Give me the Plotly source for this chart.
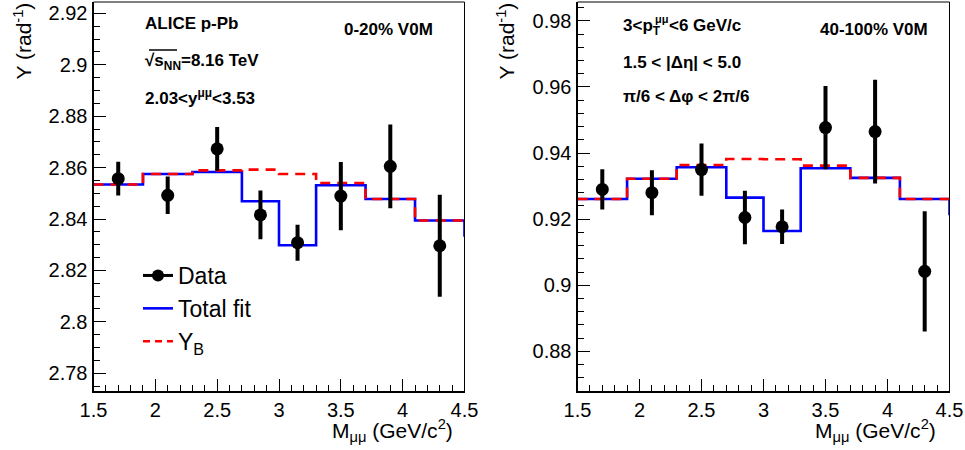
import plotly.graph_objects as go

W, H = 965, 450

# ---------------- data ----------------
mass_points = [1.7, 2.1, 2.5, 2.85, 3.15, 3.5, 3.9, 4.3]
bin_edges = [1.5, 1.9, 2.3, 2.7, 3.0, 3.3, 3.7, 4.1, 4.5]

# left panel: 0-20% V0M
left_data = [2.8557, 2.8492, 2.8673, 2.8416, 2.8308, 2.8489, 2.8605, 2.8296]
left_err = [0.0066, 0.0073, 0.0085, 0.0095, 0.0070, 0.0133, 0.0163, 0.0198]
left_fit = [2.8534, 2.8575, 2.8583, 2.8469, 2.8298, 2.8531, 2.8478, 2.8394]
left_fit_next = 2.8331
left_bkg = [2.8534, 2.8575, 2.8589, 2.8592, 2.8575, 2.8540, 2.8478, 2.8394]

# right panel: 40-100% V0M
right_data = [0.9290, 0.9280, 0.9350, 0.9205, 0.9177, 0.9477, 0.9465, 0.9042]
right_err = [0.0061, 0.0068, 0.0079, 0.0081, 0.0052, 0.0126, 0.0157, 0.0182]
right_fit = [0.9261, 0.9322, 0.9357, 0.9265, 0.9164, 0.9354, 0.9325, 0.9261]
right_fit_next = 0.9212
right_bkg = [0.9261, 0.9322, 0.9364, 0.9382, 0.9381, 0.9362, 0.9325, 0.9261]

left_yrange = [2.7731, 2.9244]
right_yrange = [0.8680, 0.9857]
x_range = [1.5, 4.5]

FONT = "Liberation Sans"
BLUE = "#0000ff"
RED = "#ff0000"

fig = go.Figure()


def step_xy(vals, nxt=None):
    xs = list(bin_edges)
    ys = list(vals) + [vals[-1]]
    if nxt is not None:
        xs.append(bin_edges[-1])
        ys.append(nxt)
    return xs, ys


panels = [
    ("x", "y", left_data, left_err, left_fit, left_fit_next, left_bkg),
    ("x2", "y2", right_data, right_err, right_fit, right_fit_next, right_bkg),
]
for xa, ya, d, e, f, fn, b in panels:
    fx, fy = step_xy(f, fn)
    fig.add_trace(go.Scatter(x=fx, y=fy, xaxis=xa, yaxis=ya, mode="lines",
                             line=dict(color=BLUE, width=2.6, shape="hv"),
                             showlegend=False, hoverinfo="skip"))
    bx, by = step_xy(b)
    fig.add_trace(go.Scatter(x=bx, y=by, xaxis=xa, yaxis=ya, mode="lines",
                             line=dict(color=RED, width=2.6, shape="hv", dash="10px,7px"),
                             showlegend=False, hoverinfo="skip"))
    fig.add_trace(go.Scatter(x=mass_points, y=d, xaxis=xa, yaxis=ya, mode="markers",
                             marker=dict(color="black", size=13, symbol="circle"),
                             error_y=dict(type="data", array=e, thickness=4, width=0,
                                          color="black"),
                             showlegend=False))

# legend entries
fig.add_trace(go.Scatter(x=[None], y=[None], mode="lines+markers", name="Data",
                         line=dict(color="black", width=3),
                         marker=dict(color="black", size=12)))
fig.add_trace(go.Scatter(x=[None], y=[None], mode="lines", name="Total fit",
                         line=dict(color=BLUE, width=2.6)))
fig.add_trace(go.Scatter(x=[None], y=[None], mode="lines", name="Y<sub>B</sub>",
                         line=dict(color=RED, width=2.6, dash="7px,5px")))


def px(x):
    return x / W


def py(y):
    return 1 - y / H


xdom_l = [px(93.5), px(464.5)]
xdom_r = [px(577.5), px(949.5)]
ydom = [py(391), py(2)]

axis_common = dict(showline=True, linecolor="black", linewidth=2, mirror=False,
                   ticks="inside", ticklen=12, tickwidth=1, tickcolor="black",
                   showgrid=False, zeroline=False, automargin=False,
                   tickfont=dict(family=FONT, size=20, color="black"))

fig.update_layout(
    width=W, height=H,
    margin=dict(l=0, r=0, t=0, b=0),
    paper_bgcolor="white", plot_bgcolor="white",
    xaxis=dict(domain=xdom_l, range=x_range, anchor="y", dtick=0.5, tick0=1.5,
               minor=dict(dtick=0.1, ticks="inside", ticklen=6, tickcolor="black"),
               **axis_common),
    yaxis=dict(domain=ydom, range=left_yrange, anchor="x", dtick=0.02, tick0=0,
               minor=dict(dtick=0.005, ticks="inside", ticklen=6, tickcolor="black"),
               **axis_common),
    xaxis2=dict(domain=xdom_r, range=x_range, anchor="y2", dtick=0.5, tick0=1.5,
                minor=dict(dtick=0.1, ticks="inside", ticklen=6, tickcolor="black"),
                **axis_common),
    yaxis2=dict(domain=ydom, range=right_yrange, anchor="x2", dtick=0.02, tick0=0,
                minor=dict(dtick=0.004, ticks="inside", ticklen=6, tickcolor="black"),
                **axis_common),
    showlegend=True,
    legend=dict(x=px(138), y=py(254), xanchor="left", yanchor="top",
                bgcolor="rgba(0,0,0,0)", font=dict(family=FONT, size=23, color="black"),
                itemwidth=30, tracegroupgap=0),
)

# thin top/right frame lines
for xd in (xdom_l, xdom_r):
    fig.add_shape(type="line", xref="paper", yref="paper", x0=xd[0], x1=xd[1],
                  y0=ydom[1], y1=ydom[1], line=dict(color="black", width=1))
    fig.add_shape(type="line", xref="paper", yref="paper", x0=xd[1], x1=xd[1],
                  y0=ydom[0], y1=ydom[1], line=dict(color="black", width=1))

# overline of the square root
fig.add_shape(type="line", xref="paper", yref="paper", x0=px(149), x1=px(177),
              y0=py(50), y1=py(50), line=dict(color="black", width=1.5))

bold = dict(family=FONT, size=17, color="black", weight="bold")
texts = [
    ("ALICE p-Pb", 143, 23, "left"),
    ("√s<sub>NN</sub>=8.16 TeV", 143, 62, "left"),
    ("2.03<y<sup>μμ</sup><3.53", 143, 97, "left"),
    ("0-20% V0M", 435, 30, "right"),
    ("3<p<sub>T</sub>", 621, 27, "left"),
    ("<6 GeV/c", 667, 25, "left"),
    ("1.5 < |Δη| < 5.0", 621, 62, "left"),
    ("π/6 < Δφ < 2π/6", 621, 97, "left"),
    ("40-100% V0M", 930, 30, "right"),
]
for t, x, y, anc in texts:
    fig.add_annotation(text=t, x=px(x), y=py(y), xref="paper", yref="paper",
                       xanchor=anc, yanchor="middle", showarrow=False, font=bold)
# stacked superscript of p_T
fig.add_annotation(text="μμ", x=px(653), y=py(19), xref="paper", yref="paper",
                   xanchor="left", yanchor="middle", showarrow=False,
                   font=dict(family=FONT, size=11, color="black", weight="bold"))

title_font = dict(family=FONT, size=21, color="black")
for xr in (455, 938):
    fig.add_annotation(text="M<sub>μμ</sub> (GeV/c<sup>2</sup>)", x=px(xr), y=py(430),
                       xref="paper", yref="paper", xanchor="right", yanchor="middle",
                       showarrow=False, font=title_font)
for xc in (22, 505):
    fig.add_annotation(text="Y (rad<sup>-1</sup>)", x=px(xc), y=py(1), textangle=-90,
                       xref="paper", yref="paper", xanchor="center", yanchor="top",
                       showarrow=False, font=title_font)

fig.write_html("out.html", config={"displayModeBar": False},
               post_script="document.body.style.margin='0px';")
